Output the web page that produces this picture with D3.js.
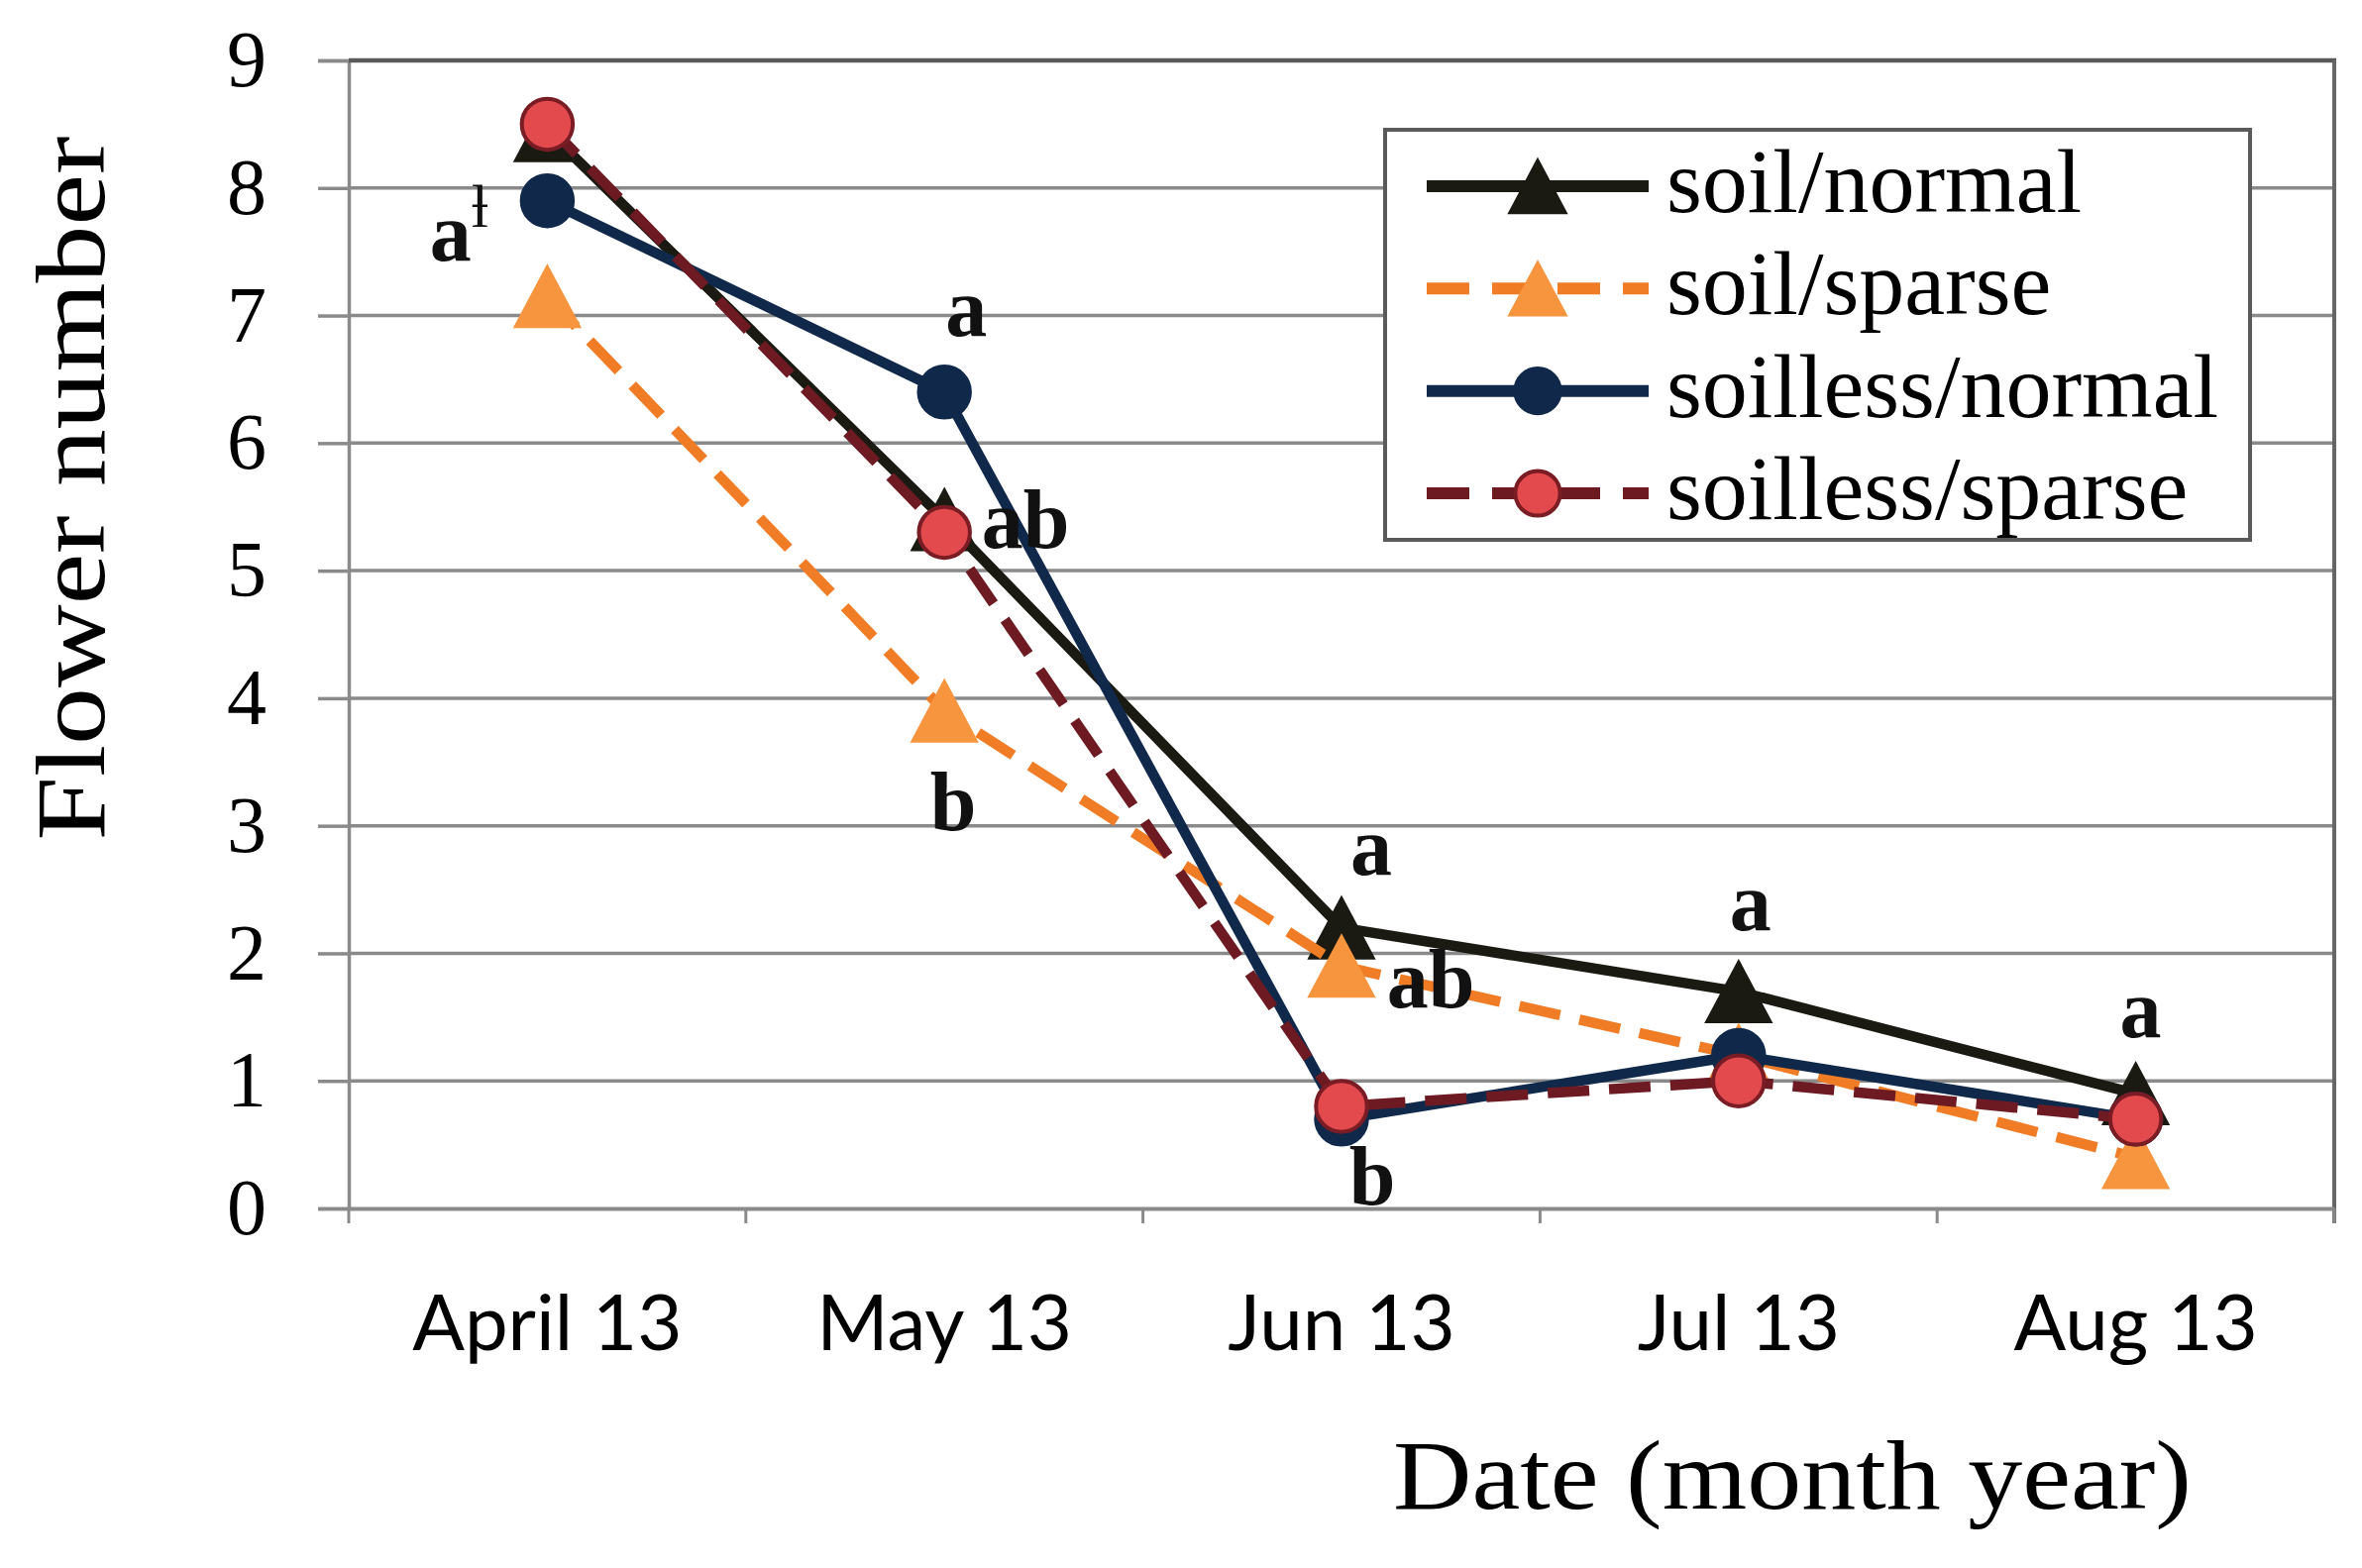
<!DOCTYPE html>
<html>
<head>
<meta charset="utf-8">
<script src="https://cdn.jsdelivr.net/npm/d3@7"></script>
<style>
  body { margin: 0; background: #fff; }
  svg { display: block; }
</style>
</head>
<body>
<script>
// values
const dates = ['April 13', 'May 13', 'Jun 13', 'Jul 13', 'Aug 13']
const seriesNames = ['soil/normal', 'soil/sparse', 'soilless/normal', 'soilless/sparse']
const soilNormal = [8.45, 5.4, 2.2, 1.7, 0.9]
const soilSparse = [7.15, 3.9, 1.9, 1.2, 0.4]
const soillessNormal = [7.9, 6.4, 0.7, 1.2, 0.7]
const soillessSparse = [8.5, 5.3, 0.8, 1.0, 0.7]
const yTicks = [0, 1, 2, 3, 4, 5, 6, 7, 8, 9]

// significance letters: date, text, level (in flower-number units)
const letterDates = ['April 13', 'May 13', 'May 13', 'May 13', 'Jun 13', 'Jun 13', 'Jun 13', 'Jul 13', 'Aug 13']
const letterTexts = ['a', 'a', 'ab', 'b', 'a', 'ab', 'b', 'a', 'a']
const letterLevels = [7.43, 6.84, 5.18, 2.97, 2.62, 1.58, 0.03, 2.18, 1.34]

const W = 2384, H = 1583
const plot = { left: 352, right: 2356, top: 61, bottom: 1220 }

const styles = [
    { line: '#1b1a12', dash: null, shape: 'tri', fill: '#1b1a12', stroke: '#1b1a12' },
    { line: '#f07c25', dash: '42,20', shape: 'tri', fill: '#f7953f', stroke: '#f7953f' },
    { line: '#10294b', dash: null, shape: 'circle', fill: '#10294b', stroke: '#10294b' },
    { line: '#6e1a22', dash: '42,20', shape: 'circle', fill: '#e24a4e', stroke: '#7a1c24' }
]
const seriesValues = [soilNormal, soilSparse, soillessNormal, soillessSparse]

const svg = d3.select('body').append('svg').attr('width', W).attr('height', H)

let x = d3.scaleBand().domain(dates).range([plot.left, plot.right])
let y = d3.scaleLinear().domain([0, 9]).range([plot.bottom, plot.top])
const cx = d => x(d) + x.bandwidth() / 2

// gridlines
svg.append('g')
    .selectAll('line')
    .data(yTicks.filter(t => t > 0 && t < 9))
    .join('line')
    .attr('x1', plot.left).attr('x2', plot.right)
    .attr('y1', d => y(d)).attr('y2', d => y(d))
    .attr('stroke', '#8a8a8a').attr('stroke-width', 3.5)

// y axis
const yAxis = svg.append('g')
    .attr('transform', `translate(${plot.left},0)`)
    .call(d3.axisLeft(y).tickValues(yTicks).tickSize(31).tickPadding(52))
yAxis.select('.domain').attr('stroke', '#8a8a8a').attr('stroke-width', 3.5)
yAxis.selectAll('.tick line').attr('stroke', '#8a8a8a').attr('stroke-width', 3.5)
yAxis.selectAll('.tick text')
    .attr('font-family', '"Liberation Serif", "DejaVu Serif", serif')
    .attr('font-size', 80).attr('fill', '#000')

// plot border top and right
svg.append('line').attr('x1', plot.left).attr('x2', plot.right + 2)
    .attr('y1', plot.top).attr('y2', plot.top)
    .attr('stroke', '#5a5a5a').attr('stroke-width', 4.5)
svg.append('line').attr('x1', plot.right).attr('x2', plot.right)
    .attr('y1', plot.top).attr('y2', plot.bottom + 15)
    .attr('stroke', '#666').attr('stroke-width', 4)

// x axis: tick marks at band edges, labels at centres
const xAxis = svg.append('g')
    .attr('transform', `translate(0,${plot.bottom})`)
    .call(d3.axisBottom(x).tickSize(0).tickPadding(143))
xAxis.select('.domain').attr('stroke', '#8a8a8a').attr('stroke-width', 4)
xAxis.selectAll('.tick text')
    .attr('font-family', 'Lato, "Liberation Sans", sans-serif')
    .attr('font-size', 78).attr('fill', '#000')
    .attr('dy', 0)
svg.append('g')
    .selectAll('line')
    .data(dates.map(d => x(d)).concat([plot.right]))
    .join('line')
    .attr('x1', d => d).attr('x2', d => d)
    .attr('y1', plot.bottom).attr('y2', plot.bottom + 15)
    .attr('stroke', '#8a8a8a').attr('stroke-width', 3)

// axis titles
svg.append('text')
    .attr('transform', 'translate(105,493) rotate(-90)')
    .attr('text-anchor', 'middle')
    .attr('font-family', '"Liberation Serif", "DejaVu Serif", serif')
    .attr('font-size', 100)
    .attr('textLength', 711).attr('lengthAdjust', 'spacingAndGlyphs')
    .text('Flower  number')
svg.append('text')
    .attr('x', 1406).attr('y', 1523)
    .attr('font-family', '"Liberation Serif", "DejaVu Serif", serif')
    .attr('font-size', 100)
    .attr('textLength', 806).attr('lengthAdjust', 'spacingAndGlyphs')
    .text('Date (month year)')

const triPath = s => `M0,${-s * 0.94}L${s},${s * 0.94}L${-s},${s * 0.94}Z`

const drawMarker = (sel, st, size) => {
    if (st.shape === 'tri') {
        sel.append('path').attr('d', triPath(size))
            .attr('fill', st.fill).attr('stroke', st.stroke).attr('stroke-width', 2)
    } else {
        sel.append('circle').attr('r', size * 0.78)
            .attr('fill', st.fill).attr('stroke', st.stroke).attr('stroke-width', 4)
    }
}

// series
const line = d3.line().x(d => cx(d[0])).y(d => y(d[1]))
seriesValues.forEach((vals, i) => {
    const st = styles[i]
    const pts = dates.map((d, j) => [d, vals[j]])
    const g = svg.append('g')
    g.append('path')
        .attr('d', line(pts))
        .attr('fill', 'none')
        .attr('stroke', st.line).attr('stroke-width', 10.5)
        .attr('stroke-dasharray', st.dash)
        .attr('stroke-linejoin', 'round')
    g.selectAll('g.m')
        .data(pts)
        .join('g')
        .attr('class', 'm')
        .attr('transform', d => `translate(${cx(d[0])},${y(d[1])})`)
        .each(function () { drawMarker(d3.select(this), st, 33) })
})

// significance letters
const letterDx = [-89, 22, 82, 9, 30, 90, 31, 12, 5]
letterTexts.forEach((t, i) => {
    const txt = svg.append('text')
        .attr('x', cx(letterDates[i]) + letterDx[i])
        .attr('y', y(letterLevels[i]))
        .attr('text-anchor', 'middle')
        .attr('font-family', '"Liberation Serif", "DejaVu Serif", serif')
        .attr('font-weight', 'bold')
        .attr('font-size', 84)
        .attr('fill', '#111')
        .text(t)
    if (i === 0) {
        txt.append('tspan')
            .attr('dy', -34).attr('font-size', 62).attr('font-weight', 'normal')
            .text('ƚ')
    }
})

// legend
const legend = { left: 1398, top: 131, right: 2271, bottom: 545 }
svg.append('rect')
    .attr('x', legend.left).attr('y', legend.top)
    .attr('width', legend.right - legend.left).attr('height', legend.bottom - legend.top)
    .attr('fill', '#fff').attr('stroke', '#5a5a5a').attr('stroke-width', 4)

let ly = d3.scalePoint().domain(seriesNames).range([188, 498])
seriesNames.forEach((name, i) => {
    const st = styles[i]
    const g = svg.append('g').attr('transform', `translate(0,${ly(name)})`)
    g.append('line')
        .attr('x1', 1440).attr('x2', 1664)
        .attr('stroke', st.line).attr('stroke-width', 12)
        .attr('stroke-dasharray', st.dash ? '43,23' : null)
    drawMarker(g.append('g').attr('transform', 'translate(1552,0)'), st, 29)
    g.append('text')
        .attr('x', 1682).attr('y', 26)
        .attr('font-family', '"Liberation Serif", "DejaVu Serif", serif')
        .attr('font-size', 92)
        .attr('fill', '#000')
        .text(name)
})
</script>
</body>
</html>
